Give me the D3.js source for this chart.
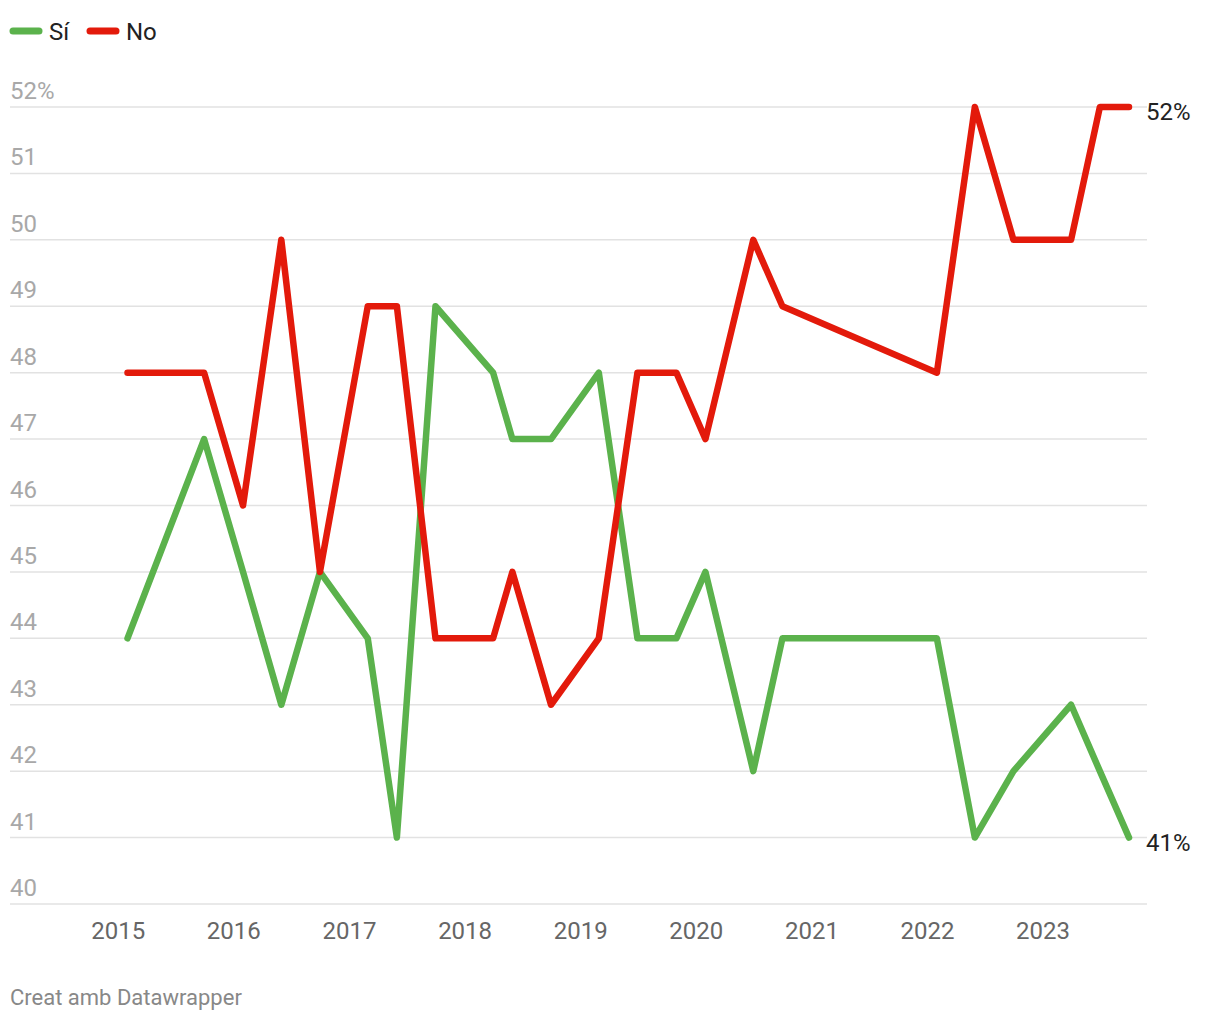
<!DOCTYPE html>
<html>
<head>
<meta charset="utf-8">
<script src="https://cdn.jsdelivr.net/npm/d3@7"></script>
<style>
  html, body { margin: 0; padding: 0; background: #fff; }
  svg { display: block; font-family: Roboto, "Noto Sans", sans-serif; }
</style>
</head>
<body>
<svg id="chart" width="1220" height="1020"></svg>
<script>
// ---- data ----
const dates = ["2015-02","2015-10","2016-02","2016-06","2016-10","2017-03","2017-06","2017-10",
  "2018-04","2018-06","2018-10","2019-03","2019-07","2019-11","2020-02","2020-07","2020-10",
  "2022-02","2022-06","2022-10","2023-04","2023-07","2023-10"];
const si = [44,47,45,43,45,44,41,49,48,47,47,48,44,44,45,42,44,44,41,42,43,42,41];
const no = [48,48,46,50,45,49,49,44,44,45,43,44,48,48,47,50,49,48,52,50,50,52,52];
const seriesNames = ["Sí", "No"];
const seriesColors = ["#5bb24c", "#e31a0b"];
const yTicks = [40,41,42,43,44,45,46,47,48,49,50,51,52];
const xTickYears = [2015,2016,2017,2018,2019,2020,2021,2022,2023];

const parse = d3.timeParse("%Y-%m");
const T = dates.map(parse);

const svg = d3.select("#chart");
const x = d3.scaleTime().domain(d3.extent(T)).range([127.5, 1129]);
const y = d3.scaleLinear().domain([40, 52]).range([904, 107]);

// gridlines + y labels
const grid = svg.append("g");
yTicks.forEach(v => {
  grid.append("line").attr("x1", 10).attr("x2", 1147)
    .attr("y1", y(v)).attr("y2", y(v))
    .attr("stroke", "#e2e2e2").attr("stroke-width", 1.5);
  grid.append("text").attr("x", 10).attr("y", y(v) - 8)
    .attr("fill", "#a8a8a8").attr("font-size", 24)
    .text(v === 52 ? v + "%" : v);
});

// x axis
const xAxis = d3.axisBottom(x)
  .tickValues(xTickYears.map(yr => new Date(yr, 0, 1)))
  .tickFormat(d3.timeFormat("%Y")).tickSize(0).tickPadding(0);
const gx = svg.append("g").attr("transform", "translate(0,939)").call(xAxis);
gx.select(".domain").remove();
gx.selectAll("text").attr("fill", "#666").attr("font-size", 24)
  .attr("dy", 0).attr("font-family", "Roboto, sans-serif");

// lines
const line = d3.line().x((d, i) => x(T[i])).y(d => y(d));
[si, no].forEach((vals, k) => {
  svg.append("path").datum(vals).attr("d", line)
    .attr("fill", "none").attr("stroke", seriesColors[k])
    .attr("stroke-width", 6.5).attr("stroke-linejoin", "round").attr("stroke-linecap", "round");
});

// end labels
[si, no].forEach((vals, k) => {
  const last = vals[vals.length - 1];
  svg.append("text").attr("x", 1146).attr("y", y(last) + 13)
    .attr("fill", "#222").attr("font-size", 24).text(last + "%");
});

// legend
const legend = svg.append("g");
[[10, 49], [87, 126]].forEach((p, k) => {
  legend.append("line").attr("x1", p[0] + 3).attr("x2", p[0] + 29)
    .attr("y1", 31).attr("y2", 31).attr("stroke", seriesColors[k])
    .attr("stroke-width", 7).attr("stroke-linecap", "round");
  legend.append("text").attr("x", p[1]).attr("y", 40)
    .attr("fill", "#222").attr("font-size", 24).text(seriesNames[k]);
});

// footer
svg.append("text").attr("x", 10).attr("y", 1005)
  .attr("fill", "#888").attr("font-size", 22).text("Creat amb Datawrapper");
</script>
</body>
</html>
